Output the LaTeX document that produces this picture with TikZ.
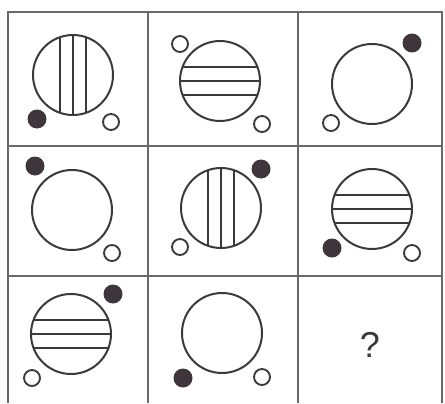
\documentclass[tikz,border=0pt]{standalone}
\usepackage{fontspec}
\setsansfont{Liberation Sans}
\usepackage{xcolor}
\usepackage{tikz}
\definecolor{ink}{RGB}{58,58,58}
\definecolor{gridc}{RGB}{105,105,105}
\definecolor{dotc}{RGB}{62,54,58}

\begin{document}
\begin{tikzpicture}[x=0.75pt,y=-0.75pt,
    bigring/.style={draw=ink,line width=1.5pt},
    stripe/.style={draw=ink,line width=1.3pt},
    ring/.style={draw=ink,line width=1.4pt,fill=white},
    blob/.style={fill=dotc}]
  \useasboundingbox (0,0) rectangle (445,403);
  % ---- grid ----
  \draw[gridc,line width=1.5pt] (8,403) -- (8,12) -- (442,12) -- (442,403);
  \draw[gridc,line width=1.5pt] (148,12) -- (148,403) (298,12) -- (298,403);
  \draw[gridc,line width=1.5pt] (8,146) -- (442,146) (8,276) -- (442,276);
  % ---- big circles ----
  \foreach \x/\y in {73/75, 220/81, 372/84, 72/210, 221/208, 372/209, 71/334, 222/333}{
      \draw[bigring] (\x,\y) circle (40);}
  % ---- vertical stripes ----
  \foreach \x/\y in {73/75, 221/208}{
      \foreach \d in {-13,0,13}{
          \draw[stripe] ({\x+\d},{\y-sqrt(1600-\d*\d)}) -- ({\x+\d},{\y+sqrt(1600-\d*\d)});}}
  % ---- horizontal stripes ----
  \foreach \x/\y in {220/81, 372/209, 71/334}{
      \foreach \d in {-14,0,14}{
          \draw[stripe] ({\x-sqrt(1600-\d*\d)},{\y+\d}) -- ({\x+sqrt(1600-\d*\d)},{\y+\d});}}
  % ---- filled dots ----
  \foreach \x/\y in {37/119, 412/43, 35/166, 261/169, 332/248, 113/294, 183/378}{
      \fill[blob] (\x,\y) circle (9.5);}
  % ---- open dots ----
  \foreach \x/\y in {111/122, 180/44, 262/124, 331/123, 112/253, 180/247, 412/253, 32/378, 262/377}{
      \draw[ring] (\x,\y) circle (8);}
  % ---- missing cell ----
  \node[font=\sffamily\fontsize{27}{30}\selectfont,text=ink] (qmark) at (370,345) {?};
\end{tikzpicture}
\end{document}
